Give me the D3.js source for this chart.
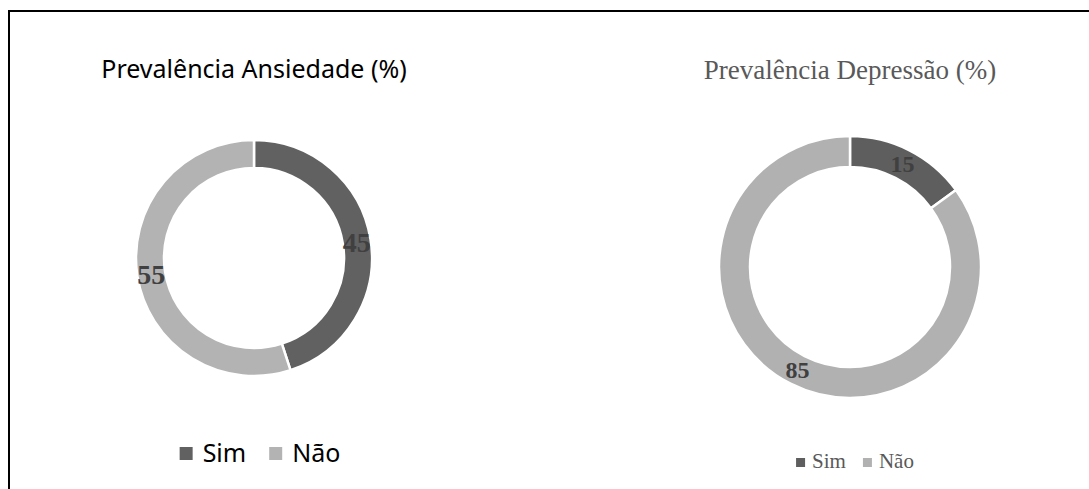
<!DOCTYPE html>
<html>
<head>
<meta charset="utf-8">
<script src="https://cdn.jsdelivr.net/npm/d3@7"></script>
<style>
  body { margin: 0; background: #fff; }
</style>
</head>
<body>
<div class="svg-container"></div>
<script>
// Dados
const categorias = ['Sim', 'Não'];
const ansiedade = [45, 55];
const depressao = [15, 85];
const titulos = ['Prevalência Ansiedade (%)', 'Prevalência Depressão (%)'];

const widthSVG = 1089;
const heightSVG = 489;

const svg = d3.select('.svg-container')
  .append('svg')
  .attr('width', widthSVG)
  .attr('height', heightSVG);

// Moldura (continua para fora da imagem a direita e embaixo)
svg.append('rect')
  .attr('x', 9)
  .attr('y', 11)
  .attr('width', 1200)
  .attr('height', 600)
  .attr('fill', 'none')
  .attr('stroke', 'black')
  .attr('stroke-width', 2);

function drawDonut(valores, titulo, opts) {
  const dados = categorias.map((c, i) => ({ categoria: c, valor: valores[i] }));
  const color = d3.scaleOrdinal().domain(categorias).range(opts.colors);

  const pie = d3.pie().sort(null).value(d => d.valor);
  const arc = d3.arc().innerRadius(opts.inner).outerRadius(opts.outer);
  const arcs = pie(dados);

  const g = svg.append('g')
    .attr('transform', `translate(${opts.cx},${opts.cy})`);

  g.selectAll('path.fatia')
    .data(arcs)
    .enter().append('path')
    .attr('class', 'fatia')
    .attr('d', arc)
    .attr('fill', d => color(d.data.categoria))
    .attr('stroke', 'white')
    .attr('stroke-width', 2.5);

  // Rotulos de dados
  g.selectAll('text.rotulo')
    .data(arcs)
    .enter().append('text')
    .attr('class', 'rotulo')
    .attr('transform', d => `translate(${arc.centroid(d)})`)
    .attr('text-anchor', 'middle')
    .attr('dy', '0.35em')
    .attr('font-family', 'Liberation Serif, serif')
    .attr('font-weight', 'bold')
    .attr('font-size', opts.labelSize + 'px')
    .attr('fill', '#404040')
    .text(d => d.data.valor);

  // Titulo
  svg.append('text')
    .attr('x', opts.cx)
    .attr('y', opts.titleY)
    .attr('text-anchor', 'middle')
    .attr('font-family', opts.font)
    .attr('font-size', opts.titleSize + 'px')
    .attr('fill', opts.textColor)
    .text(titulo);

  // Legenda
  const leg = svg.append('g');
  let x = 0;
  categorias.forEach((c, i) => {
    leg.append('rect')
      .attr('x', x)
      .attr('y', opts.legendY - opts.sq - opts.sqLift)
      .attr('width', opts.sq)
      .attr('height', opts.sq)
      .attr('fill', color(c));
    x += opts.sq + opts.sqGap;
    const t = leg.append('text')
      .attr('x', x)
      .attr('y', opts.legendY)
      .attr('font-family', opts.font)
      .attr('font-size', opts.legendSize + 'px')
      .attr('fill', opts.textColor)
      .text(c);
    x += t.node().getComputedTextLength() + opts.itemGap;
  });
  const totalW = x - opts.itemGap;
  leg.attr('transform', `translate(${opts.legendCx - totalW / 2},0)`);
}

drawDonut(ansiedade, titulos[0], {
  cx: 254, cy: 258, outer: 118, inner: 90,
  colors: ['#616161', '#b3b3b3'],
  font: 'Noto Sans, Open Sans, sans-serif', textColor: '#000',
  titleY: 78, titleSize: 25,
  labelSize: 28,
  legendY: 462, legendCx: 260, legendSize: 25,
  sq: 13, sqLift: 2, sqGap: 10, itemGap: 23
});

drawDonut(depressao, titulos[1], {
  cx: 850, cy: 267, outer: 131, inner: 100,
  colors: ['#5e5e5e', '#b1b1b1'],
  font: 'Liberation Serif, Times New Roman, serif', textColor: '#595959',
  titleY: 79, titleSize: 27,
  labelSize: 24,
  legendY: 468, legendCx: 855, legendSize: 21,
  sq: 9, sqLift: 1, sqGap: 7, itemGap: 17
});
</script>
</body>
</html>
